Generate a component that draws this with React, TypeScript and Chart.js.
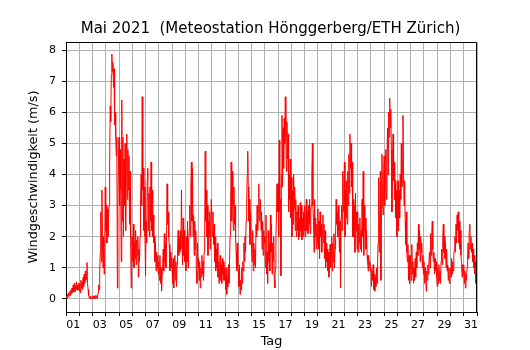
import React, { useEffect, useRef } from 'react';
import { Chart, registerables } from 'chart.js';

Chart.register(...registerables);

const TITLE = 'Mai 2021  (Meteostation Hönggerberg/ETH Zürich)';
const Y_LABEL = 'Windgeschwindigkeit (m/s)';
const X_LABEL = 'Tag';
const DAY_LABELS = ['01', '03', '05', '07', '09', '11', '13', '15', '17', '19', '21', '23', '25', '27', '29', '31'];
const Y_TICKS = [0, 1, 2, 3, 4, 5, 6, 7, 8];

// hourly wind speed (m/s), one array per day of May 2021
const may01 = [0.05,0.1,0.02,0.15,0.08,0.2,0.1,0.25,0.12,0.3,0.18,0.35,0.2,0.45,0.25,0.5,0.22,0.4,0.3,0.55,0.28,0.45,0.3,0.5];
const may02 = [0.25,0.5,0.2,0.6,0.35,0.55,0.3,0.7,0.4,0.8,0.5,0.9,0.6,0.8,1.17,0.5,0.3,0.1,0.05,0.02,0.08,0.0,0.04,0.02];
const may03 = [0.05,0.1,0.02,0.08,0.0,0.05,0.12,0.03,0.08,0.02,0.2,0.45,0.3,0.8,1.5,2.8,1.2,3.5,1.8,1.0,2.0,0.8,1.5,3.6];
const may04 = [2.2,3.0,1.8,2.9,2.0,2.6,3.0,4.3,6.2,5.7,7.2,7.87,7.3,7.6,6.8,7.4,5.6,6.0,5.2,4.6,5.2,0.35,3.0,4.5];
const may05 = [5.2,3.0,4.8,3.5,1.2,6.4,2.5,5.2,2.0,4.5,3.0,5.0,2.2,4.0,5.3,3.2,4.8,3.5,4.6,2.4,4.1,2.0,0.35,2.0];
const may06 = [2.0,1.2,2.4,1.0,1.8,1.3,2.2,1.1,1.9,1.4,2.0,0.7,1.6,1.2,2.0,3.2,4.0,3.0,6.5,3.5,4.2,2.2,3.6,2.0];
const may07 = [0.75,2.5,1.8,3.8,4.2,2.2,3.4,2.0,3.6,2.5,4.4,2.2,3.5,2.0,2.7,1.8,2.0,1.2,1.8,0.9,1.5,1.0,1.4,0.8];
const may08 = [1.2,0.6,1.4,0.5,1.0,0.25,0.8,1.1,1.6,0.9,2.1,1.2,1.8,1.0,2.0,3.7,2.4,2.8,2.0,1.75,0.9,1.5,1.0,1.3];
const may09 = [1.0,0.5,1.3,0.35,0.9,1.4,0.6,1.2,0.4,1.1,1.6,2.2,1.4,2.0,1.5,2.2,1.6,3.5,2.0,1.1,2.6,1.4,2.2,1.2];
const may10 = [1.5,0.9,2.0,1.2,2.5,1.0,1.8,2.2,3.0,2.0,3.6,4.4,2.5,4.2,2.0,2.7,1.4,2.5,1.6,2.2,0.9,0.5,1.8,1.0];
const may11 = [1.3,0.6,1.2,0.35,1.0,0.7,1.4,0.8,1.2,0.6,1.5,2.0,4.75,2.5,3.5,2.0,3.0,1.4,2.5,2.0,2.8,1.6,2.4,3.2];
const may12 = [3.2,2.0,2.8,1.75,2.4,1.2,2.0,0.9,1.6,1.0,1.8,0.7,1.2,0.5,1.0,1.4,0.6,1.1,0.5,1.3,0.8,1.2,0.6,1.0];
const may13 = [0.8,0.3,1.0,0.15,0.7,0.4,1.1,0.5,1.2,2.0,3.0,4.4,2.5,4.1,3.0,2.2,3.6,2.4,3.0,2.0,1.5,0.9,1.8,1.0];
const may14 = [0.9,0.4,1.1,0.15,0.6,0.3,1.0,0.5,1.2,0.9,1.8,1.2,2.0,1.5,2.5,3.0,4.0,4.75,3.6,2.5,3.2,1.75,2.8,2.0];
const may15 = [2.0,1.2,2.2,0.9,1.8,1.1,1.6,1.0,2.4,2.0,3.0,2.2,2.8,3.7,2.5,3.0,3.2,2.2,2.8,1.6,2.5,1.4,2.2,1.8];
const may16 = [2.0,1.0,2.7,0.8,1.5,0.5,2.2,1.2,1.8,0.9,2.7,1.5,2.4,0.8,1.8,1.2,2.0,0.6,0.35,1.0,2.0,2.7,3.7,2.8];
const may17 = [3.7,2.0,5.1,2.8,3.2,0.75,4.0,5.9,3.6,5.5,4.2,5.8,5.0,6.5,5.2,4.1,5.7,4.5,5.3,2.8,4.0,3.2,4.5,2.6];
const may18 = [3.9,2.0,3.5,2.4,4.0,2.9,3.6,2.2,3.2,2.0,2.8,2.2,3.0,1.9,2.6,2.0,3.1,2.2,3.0,1.9,2.6,2.0,2.8,2.2];
const may19 = [3.0,2.0,2.6,3.2,2.2,2.8,2.1,3.0,2.4,3.2,2.1,2.8,3.0,4.0,5.0,3.0,2.5,1.5,3.2,2.0,2.6,1.6,2.4,1.8];
const may20 = [2.9,1.6,2.5,1.3,2.8,2.0,2.4,1.5,2.2,2.7,1.8,2.4,1.3,2.2,1.0,1.8,1.2,1.6,0.9,1.5,0.7,1.2,1.75,1.0];
const may21 = [1.4,2.0,0.9,1.8,1.2,2.1,1.0,1.6,2.0,3.2,2.4,2.8,2.0,3.0,2.2,1.5,2.5,0.35,2.6,3.0,2.2,4.1,2.8,3.5];
const may22 = [4.4,2.0,3.5,2.6,3.8,2.4,4.1,3.0,4.65,3.4,5.3,4.2,5.0,3.6,4.4,2.0,3.2,2.0,3.0,1.5,3.4,2.2,2.8,1.6];
const may23 = [2.8,1.5,2.4,1.8,2.6,1.6,2.2,1.5,3.2,2.0,4.1,1.4,3.0,2.2,2.6,1.6,2.2,1.4,1.2,0.9,1.4,1.0,1.2,0.9];
const may24 = [1.0,0.4,0.9,0.6,1.1,0.3,0.8,0.25,0.7,0.4,1.0,0.5,1.2,1.8,3.9,1.5,2.5,4.1,0.6,3.0,4.65,3.2,2.7,4.0];
const may25 = [4.6,3.0,3.8,4.8,3.2,4.5,5.5,4.0,6.0,5.2,6.45,5.5,6.1,4.8,2.8,4.2,5.3,3.8,4.4,3.2,3.8,2.6,3.5,2.0];
const may26 = [3.0,3.8,2.2,3.5,2.6,4.0,3.2,5.0,3.6,4.5,5.9,4.0,3.0,3.8,2.5,1.75,2.8,1.5,1.2,1.75,0.6,1.4,0.5,1.0];
const may27 = [1.4,0.6,1.75,0.8,1.2,0.5,1.0,0.6,1.3,0.7,1.5,1.0,1.8,1.4,2.4,1.6,2.2,1.2,2.0,1.5,1.8,1.0,1.4,0.8];
const may28 = [1.2,0.5,1.0,0.7,0.25,0.9,0.6,1.1,0.8,1.2,1.5,1.0,2.1,1.4,2.0,2.5,1.6,1.2,1.5,0.8,1.3,0.9,1.2,0.7];
const may29 = [0.4,1.0,0.5,1.1,0.6,0.9,0.5,1.2,1.6,1.1,2.0,2.4,1.5,2.0,1.3,1.8,1.0,1.6,0.9,1.1,0.6,1.0,0.5,0.8];
const may30 = [1.0,0.7,1.3,0.8,1.2,0.9,1.4,1.6,2.0,1.5,2.4,1.8,2.7,2.2,2.8,1.8,2.5,1.6,2.2,1.4,1.2,0.7,1.1,0.8];
const may31 = [1.1,0.5,0.9,0.35,0.8,0.6,1.0,1.4,1.8,1.3,2.2,2.4,1.6,2.0,1.5,1.8,1.2,1.6,1.0,1.4,0.8,1.2,0.5,0.9];

const DAYS = [may01, may02, may03, may04, may05, may06, may07, may08, may09, may10, may11, may12, may13, may14, may15, may16,
  may17, may18, may19, may20, may21, may22, may23, may24, may25, may26, may27, may28, may29, may30, may31];

const FONT = "'DejaVu Sans', sans-serif";

const framePlugin = {
  id: 'frameAndTitle',
  afterDraw(chart: any) {
    const { ctx, chartArea } = chart;
    const { left, right, top, bottom } = chartArea;
    ctx.save();
    ctx.strokeStyle = '#000';
    ctx.lineWidth = 1;
    ctx.beginPath();
    ctx.moveTo(Math.round(left) + 0.5, Math.round(top) + 0.5);
    ctx.lineTo(Math.round(right) - 0.5, Math.round(top) + 0.5);
    ctx.lineTo(Math.round(right) - 0.5, Math.round(bottom) + 0.5);
    ctx.stroke();
    ctx.fillStyle = '#000';
    ctx.font = `15px ${FONT}`;
    ctx.textAlign = 'center';
    ctx.textBaseline = 'alphabetic';
    ctx.fillText(TITLE, (left + right) / 2 - 1, 33);
    ctx.restore();
  },
};

export default function App() {
  const ref = useRef<HTMLCanvasElement | null>(null);
  useEffect(() => {
    if (!ref.current) return;
    const points: { x: number; y: number }[] = [];
    DAYS.forEach((arr, d) => {
      arr.forEach((v, h) => points.push({ x: d + h / 24, y: v }));
    });
    const xTicks: number[] = [];
    for (let i = 0; i <= 31; i++) xTicks.push(i);
    DAY_LABELS.forEach((l) => xTicks.push(parseInt(l, 10) - 1 + 0.55));
    xTicks.sort((a, b) => a - b);
    const labelFor = (v: number) => {
      if (Number.isInteger(v)) return '';
      const l = String(Math.floor(v) + 1).padStart(2, '0');
      return DAY_LABELS.includes(l) ? l : '';
    };
    const chart = new Chart(ref.current, {
      type: 'line',
      data: {
        datasets: [
          {
            data: points,
            borderColor: '#ff0000',
            borderWidth: 1,
            pointRadius: 0,
            tension: 0,
            fill: false,
          },
        ],
      },
      plugins: [framePlugin],
      options: {
        animation: false,
        responsive: false,
        events: [],
        layout: { padding: { top: 42, right: 53, bottom: 0, left: 0 } },
        plugins: { legend: { display: false }, tooltip: { enabled: false }, title: { display: false } },
        scales: {
          x: {
            type: 'linear',
            min: 0,
            max: 31,
            afterBuildTicks: (scale: any) => {
              scale.ticks = xTicks.map((v) => ({ value: v }));
            },
            afterFit: (scale: any) => {
              scale.height = 38;
            },
            ticks: {
              autoSkip: false,
              maxRotation: 0,
              padding: 3,
              color: '#000',
              font: { family: FONT, size: 11 },
              callback: (v: any) => labelFor(Number(v)),
            },
            grid: {
              color: (c: any) => (c.tick && Number.isInteger(c.tick.value) ? '#b0b0b0' : 'rgba(0,0,0,0)'),
              tickColor: (c: any) => (c.tick && Number.isInteger(c.tick.value) ? '#000' : 'rgba(0,0,0,0)'),
              lineWidth: 1,
              tickLength: 4,
            },
            border: { display: true, color: '#000', width: 1 },
            title: {
              display: true,
              text: X_LABEL,
              color: '#000',
              font: { family: FONT, size: 12.8 },
              padding: { top: 0, bottom: 0.5 },
            },
          },
          y: {
            type: 'linear',
            min: -0.42,
            max: 8.26,
            afterBuildTicks: (scale: any) => {
              scale.ticks = Y_TICKS.map((v) => ({ value: v }));
            },
            afterFit: (scale: any) => {
              scale.width = 66;
            },
            ticks: {
              padding: 6,
              color: '#000',
              font: { family: FONT, size: 11 },
              callback: (v: any) => String(v),
            },
            grid: {
              color: '#b0b0b0',
              tickColor: '#000',
              lineWidth: 1,
              tickLength: 4,
            },
            border: { display: true, color: '#000', width: 1 },
            title: {
              display: true,
              text: Y_LABEL,
              color: '#000',
              font: { family: FONT, size: 12.8 },
              padding: { top: 25.6, bottom: 0 },
            },
          },
        },
      },
    } as any);
    return () => chart.destroy();
  }, []);
  return (
    <div style={{ position: 'absolute', left: 0, top: 0, width: 530, height: 350, background: '#fff' }}>
      <canvas ref={ref} width={530} height={350} style={{ display: 'block', width: 530, height: 350 }} />
    </div>
  );
}
